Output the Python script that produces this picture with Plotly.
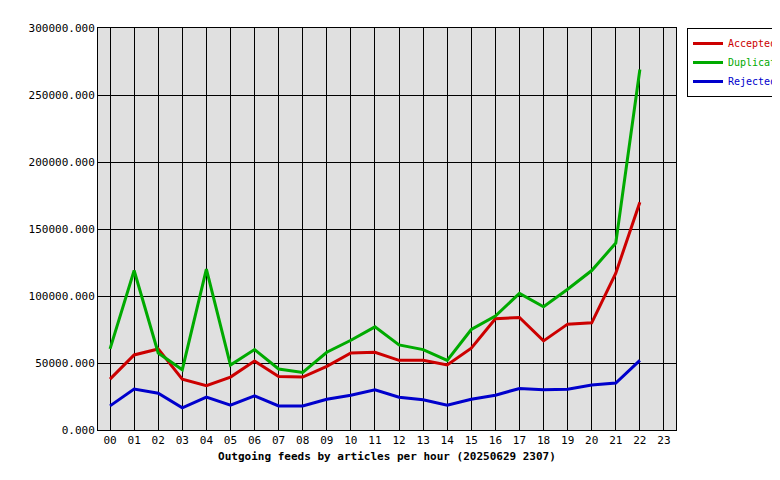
import plotly.graph_objects as go

hours = ["%02d" % h for h in range(24)]
accepted = [38000, 56000, 60500, 38000, 33000, 39500, 51500, 40000, 39500, 47500, 57500, 58000,
            52000, 52000, 48500, 61000, 83000, 84000, 66500, 79000, 80000, 117000, 170000]
duplicates = [60500, 119000, 57500, 45000, 120000, 48500, 60000, 45500, 43000, 58000, 67000, 77000,
              63500, 60000, 52000, 75000, 85000, 102000, 92000, 105000, 119000, 139500, 269000]
rejected = [18000, 30500, 27500, 16500, 24500, 18500, 25500, 18000, 18000, 23000, 26000, 30000,
            24500, 22500, 18500, 23000, 26000, 31000, 30000, 30500, 33500, 35000, 52000]
yticks = [0, 50000, 100000, 150000, 200000, 250000, 300000]

series = [("Accepted", accepted, "#cc0000"),
          ("Duplicates", duplicates, "#00aa00"),
          ("Rejected", rejected, "#0000cc")]

fig = go.Figure()
for name, vals, col in series:
    fig.add_trace(go.Scatter(x=list(range(len(vals))), y=vals,
                             name='<span style="color:%s">%s</span>' % (col, name), mode="lines",
                             line=dict(color=col, width=3)))

font = dict(family="DejaVu Sans Mono", size=11, color="black")
fig.update_layout(
    width=780, height=480, margin=dict(l=90, r=112, t=20, b=58, autoexpand=False),
    paper_bgcolor="white", plot_bgcolor="#e0e0e0", font=font,
    legend=dict(x=1.019, y=1, xanchor="left", yanchor="top", bordercolor="black", borderwidth=1,
                bgcolor="white", font=dict(family="DejaVu Sans Mono", size=10), itemwidth=30,
                tracegroupgap=0),
    xaxis=dict(range=[-0.5, 23.5], tickvals=list(range(24)), ticktext=hours, automargin=False,
               showgrid=True, gridcolor="black", gridwidth=1, linecolor="black", showline=True,
               mirror=True, zeroline=False,
               title=dict(text="<b>Outgoing feeds by articles per hour (20250629 2307)</b>",
                          standoff=6, font=dict(family="DejaVu Sans Mono", size=11))),
    yaxis=dict(range=[0, 300000], tickvals=yticks, ticktext=["%d.000" % v for v in yticks],
               automargin=False,
               showgrid=True, gridcolor="black", gridwidth=1, linecolor="black", showline=True,
               mirror=True, zeroline=False),
)
fig.write_html("out.html")
